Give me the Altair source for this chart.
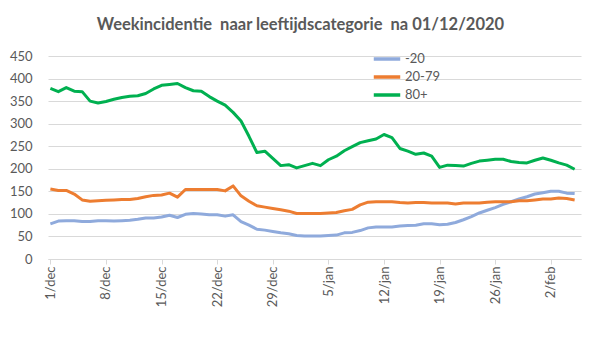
import altair as alt
import pandas as pd

# ---- data ----
tick_labels = ["1/dec", "8/dec", "15/dec", "22/dec", "29/dec",
               "5/jan", "12/jan", "19/jan", "26/jan", "2/feb"]
tick_days = [0, 7, 14, 21, 28, 35, 42, 49, 56, 63]
days = list(range(67))  # 1 dec 2020 .. 5 feb 2021
series_names = ["-20", "20-79", "80+"]

under20 = [78, 84, 85, 85, 83, 83, 85, 85, 84, 85,
           86, 88, 91, 91, 93, 97, 92, 99, 101, 100,
           98, 98, 95, 98, 83, 75, 66, 64, 61, 58,
           56, 52, 51, 51, 51, 52, 53, 58, 59, 63,
           69, 71, 71, 71, 73, 74, 75, 78, 78, 76,
           77, 81, 87, 94, 102, 108, 114, 121, 127, 133,
           138, 144, 147, 150, 150, 146, 145]

age20_79 = [155, 152, 152, 144, 131, 128, 129, 130, 131, 132,
            132, 134, 138, 141, 142, 146, 137, 154, 154, 154,
            154, 154, 151, 162, 140, 128, 118, 115, 112, 109,
            106, 101, 101, 101, 101, 102, 103, 107, 110, 120,
            126, 127, 127, 127, 125, 124, 125, 125, 124, 124,
            124, 122, 124, 124, 124, 126, 127, 127, 127, 129,
            129, 131, 133, 133, 135, 134, 131]

over80 = [378, 371, 380, 372, 371, 350, 346, 349, 354, 358,
          361, 362, 367, 377, 385, 387, 389, 380, 373, 372,
          360, 350, 341, 325, 306, 272, 236, 239, 223, 207,
          209, 202, 207, 212, 207, 220, 228, 240, 249, 258,
          262, 266, 276, 269, 245, 239, 232, 235, 228, 203,
          208, 207, 206, 212, 217, 219, 221, 221, 216, 214,
          213, 219, 224, 219, 213, 208, 199]

colors = ["#8FAADC", "#ED7D31", "#00B050"]
y_ticks = [0, 50, 100, 150, 200, 250, 300, 350, 400, 450]
title_text = "Weekincidentie \u00a0naar leeftijdscategorie \u00a0na 01/12/2020"

rows = []
for name, vals in zip(series_names, [under20, age20_79, over80]):
    for d, v in zip(days, vals):
        rows.append({"day": d, "value": v, "series": name})
df = pd.DataFrame(rows)

label_expr = "[" + ",".join("'" + t + "'" for t in tick_labels) + "][round(datum.value / 7)]"

FONT = "Lato"
GREY = "#595959"
GRID = "#D9D9D9"

chart = alt.Chart(df).mark_line(strokeWidth=3, strokeJoin="round").encode(
    x=alt.X(
        "day:Q",
        scale=alt.Scale(domain=[-0.3, 66.8], nice=False, zero=False),
        axis=alt.Axis(
            values=tick_days, labelExpr=label_expr, title=None, grid=False,
            labelAngle=270, labelAlign="right", labelBaseline="middle",
            labelFont=FONT, labelFontSize=13, labelColor=GREY, labelPadding=2,
            domainColor=GRID, tickColor=GRID, tickSize=5, labelFlush=False,
            labelOverlap=False,
        ),
    ),
    y=alt.Y(
        "value:Q",
        scale=alt.Scale(domain=[0, 450], nice=False),
        axis=alt.Axis(
            values=y_ticks, title=None, grid=True, gridColor=GRID, domain=False,
            ticks=False, tickSize=0, labelPadding=16, labelFont=FONT,
            labelFontSize=13, labelColor=GREY,
        ),
    ),
    color=alt.Color(
        "series:N",
        sort=series_names,
        scale=alt.Scale(domain=series_names, range=colors),
        legend=alt.Legend(
            title=None, orient="none", legendX=324, legendY=-4,
            symbolType="stroke", symbolSize=700, symbolStrokeWidth=3.5,
            labelFont=FONT, labelFontSize=13, labelColor=GREY, labelOffset=3,
            clipHeight=14, rowPadding=4, padding=0,
        ),
    ),
).properties(
    width=533,
    height=203,
    title=alt.TitleParams(
        title_text,
        font=FONT, fontSize=16.5, fontWeight="bold", color=GREY,
        anchor="middle", dx=-14, offset=17,
    ),
    autosize=alt.AutoSizeParams(type="none"),
    padding={"left": 40, "top": 48, "right": 10, "bottom": 90},
).configure_view(stroke=None)

chart.save("out.html", embed_options={"renderer": "svg", "actions": False})
